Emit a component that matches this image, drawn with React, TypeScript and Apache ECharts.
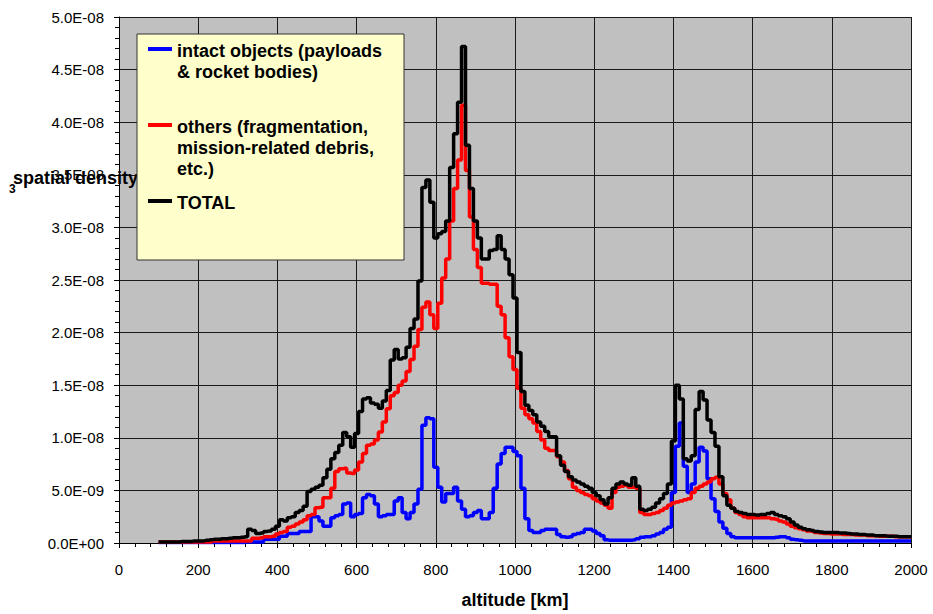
import React, { useEffect, useRef } from "react";
import * as echarts from "echarts";

// altitude bins [km]
const ALTITUDES = [
  100, 110, 120, 130, 140, 150, 160, 170, 180, 190,
  200, 210, 220, 230, 240, 250, 260, 270, 280, 290,
  300, 310, 320, 330, 340, 350, 360, 370, 380, 390,
  400, 410, 420, 430, 440, 450, 460, 470, 480, 490,
  500, 510, 520, 530, 540, 550, 560, 570, 580, 590,
  600, 610, 620, 630, 640, 650, 660, 670, 680, 690,
  700, 710, 720, 730, 740, 750, 760, 770, 780, 790,
  800, 810, 820, 830, 840, 850, 860, 870, 880, 890,
  900, 910, 920, 930, 940, 950, 960, 970, 980, 990,
  1000, 1010, 1020, 1030, 1040, 1050, 1060, 1070, 1080, 1090,
  1100, 1110, 1120, 1130, 1140, 1150, 1160, 1170, 1180, 1190,
  1200, 1210, 1220, 1230, 1240, 1250, 1260, 1270, 1280, 1290,
  1300, 1310, 1320, 1330, 1340, 1350, 1360, 1370, 1380, 1390,
  1400, 1410, 1420, 1430, 1440, 1450, 1460, 1470, 1480, 1490,
  1500, 1510, 1520, 1530, 1540, 1550, 1560, 1570, 1580, 1590,
  1600, 1610, 1620, 1630, 1640, 1650, 1660, 1670, 1680, 1690,
  1700, 1710, 1720, 1730, 1740, 1750, 1760, 1770, 1780, 1790,
  1800, 1810, 1820, 1830, 1840, 1850, 1860, 1870, 1880, 1890,
  1900, 1910, 1920, 1930, 1940, 1950, 1960, 1970, 1980, 1990,
  2000,
];

// spatial density in units of 1E-09 [1/km^3]
const INTACT = [
  0.05, 0.05, 0.05, 0.05, 0.05, 0.05, 0.05, 0.05, 0.05, 0.05,
  0.05, 0.05, 0.05, 0.05, 0.05, 0.05, 0.05, 0.05, 0.05, 0.05,
  0.05, 0.05, 0.1, 0.1, 0.1, 0.1, 0.1, 0.35, 0.35, 0.35,
  0.35, 0.65, 0.65, 0.9, 0.9, 0.9, 1.1, 1.1, 1.1, 2.5,
  2.5, 2.1, 1.6, 1.6, 2.4, 2.6, 2.7, 3.7, 3.8, 2.5,
  2.7, 2.8, 4.3, 4.6, 4.5, 3.7, 2.5, 2.6, 2.7, 2.7,
  4.0, 4.3, 2.9, 2.3, 2.9, 3.7, 5.1, 11.2, 11.9, 11.8,
  7.2, 5.3, 3.9, 4.7, 4.7, 5.3, 4.0, 3.2, 2.5, 2.6,
  2.9, 3.1, 2.3, 2.3, 2.9, 5.2, 7.5, 8.5, 9.1, 9.1,
  8.7, 8.3, 5.2, 2.3, 1.2, 1.0, 1.0, 1.2, 1.3, 1.3,
  1.3, 0.8, 0.6, 0.55, 0.6, 0.8, 0.9, 1.0, 1.3, 1.3,
  1.15, 0.9, 0.7, 0.3, 0.25, 0.25, 0.25, 0.25, 0.25, 0.25,
  0.3, 0.4, 0.55, 0.6, 0.6, 0.7, 0.85, 1.0, 1.3, 1.5,
  4.8, 9.2, 11.4, 7.3, 4.8, 5.6, 7.7, 9.1, 8.75, 6.1,
  4.2, 3.0, 2.0, 1.4, 0.9, 0.6, 0.5, 0.5, 0.5, 0.5,
  0.5, 0.5, 0.5, 0.5, 0.5, 0.5, 0.55, 0.6, 0.6, 0.5,
  0.35, 0.3, 0.25, 0.2, 0.2, 0.2, 0.2, 0.2, 0.2, 0.2,
  0.2, 0.2, 0.2, 0.2, 0.2, 0.2, 0.2, 0.2, 0.2, 0.2,
  0.2, 0.2, 0.2, 0.2, 0.2, 0.2, 0.2, 0.2, 0.2, 0.2,
  0.2,
];

const OTHERS = [
  0.1, 0.1, 0.1, 0.1, 0.1, 0.1, 0.1, 0.1, 0.1, 0.1,
  0.1, 0.1, 0.1, 0.1, 0.2, 0.2, 0.2, 0.2, 0.2, 0.2,
  0.2, 0.2, 0.2, 0.2, 0.45, 0.45, 0.5, 0.6, 0.6, 0.65,
  0.85, 1.0, 1.1, 1.5, 1.6, 1.8, 2.0, 2.2, 2.6, 2.7,
  3.35, 3.4, 4.3, 4.3, 5.2, 6.8, 7.05, 7.1, 6.65, 6.6,
  6.95, 7.7, 8.5, 9.3, 9.4, 9.8, 10.55, 11.5, 12.75, 14.0,
  14.3, 15.0, 15.4, 16.3, 17.45, 18.7, 20.3, 22.4, 22.9, 21.7,
  20.4, 22.8, 25.2, 27.0, 30.6, 33.7, 36.4, 41.6, 35.4, 31.0,
  27.9, 26.2, 24.7, 24.7, 24.6, 24.6, 22.5, 21.7, 19.5, 17.7,
  16.5, 14.7, 12.8, 12.2, 11.8, 11.4, 10.6, 9.8, 9.0, 8.8,
  8.8, 8.2, 7.7, 6.9, 6.1, 5.3, 5.0, 4.8, 4.6, 4.5,
  4.2, 4.0, 3.8, 3.6, 3.3, 4.8, 5.3, 5.4, 5.5, 5.3,
  5.3, 5.2, 2.9, 2.7, 2.7, 2.8, 2.9, 3.1, 3.3, 3.6,
  3.8, 3.9, 4.0, 4.1, 4.2, 4.8, 5.2, 5.4, 5.6, 5.8,
  6.1, 6.25, 5.6, 4.7, 4.1, 3.3, 2.9, 2.7, 2.5, 2.4,
  2.4, 2.4, 2.4, 2.4, 2.4, 2.3, 2.25, 2.1, 2.0, 1.8,
  1.6, 1.45, 1.35, 1.25, 1.15, 1.1, 1.0, 0.95, 0.9, 0.9,
  0.85, 0.85, 0.85, 0.8, 0.8, 0.8, 0.75, 0.75, 0.75, 0.7,
  0.7, 0.7, 0.65, 0.65, 0.65, 0.65, 0.6, 0.6, 0.6, 0.6,
  0.6,
];

const TOTAL = [
  0.1, 0.1, 0.1, 0.1, 0.1, 0.1, 0.15, 0.15, 0.15, 0.2,
  0.2, 0.2, 0.25, 0.3, 0.35, 0.35, 0.4, 0.4, 0.45, 0.5,
  0.5, 0.55, 0.6, 1.3, 1.2, 0.9, 0.95, 1.1, 1.15, 1.3,
  1.6, 2.2, 2.1, 2.4, 2.5, 2.9, 3.1, 3.5, 4.9, 5.1,
  5.3, 5.5, 6.2, 7.0, 8.0, 8.6, 9.3, 10.5, 10.1, 9.1,
  10.4, 12.5, 13.7, 13.8, 13.3, 13.2, 12.8, 13.5, 14.5, 17.4,
  18.4, 17.5, 17.6, 18.6, 20.4, 21.3, 24.9, 33.8, 34.5, 32.4,
  29.0, 29.4, 29.6, 30.6, 35.7, 38.9, 41.9, 47.2, 37.8, 33.7,
  30.6, 29.0, 27.0, 27.0, 27.8, 27.9, 29.2, 27.9, 27.0, 25.5,
  23.3, 18.1, 14.4, 13.1, 12.6, 12.2, 11.5, 11.1, 10.6, 10.1,
  10.1, 8.3, 7.4, 6.8, 6.3, 6.0, 5.8, 5.6, 5.4, 5.2,
  4.8, 4.5, 4.1, 3.7, 4.3, 5.2, 5.6, 5.8, 5.6, 5.5,
  6.2, 5.4, 3.2, 3.1, 3.2, 3.4, 3.8, 4.2, 4.7, 5.6,
  9.7, 15.0, 13.7, 8.0, 7.8, 8.3, 12.7, 14.4, 13.6, 11.7,
  10.5, 9.2, 6.3, 4.5, 3.6, 3.3, 3.0, 2.9, 2.8, 2.7,
  2.7, 2.65, 2.7, 2.7, 2.8, 2.9, 2.7, 2.6, 2.5, 2.3,
  2.0, 1.7, 1.5, 1.35, 1.25, 1.2, 1.1, 1.05, 1.0, 1.0,
  1.0, 1.0, 0.95, 0.95, 0.9, 0.85, 0.85, 0.8, 0.8, 0.75,
  0.75, 0.7, 0.7, 0.7, 0.65, 0.65, 0.65, 0.6, 0.6, 0.6,
  0.6,
];

const SERIES_NAMES = ["intact objects (payloads & rocket bodies)", "others (fragmentation, mission-related debris, etc.)", "TOTAL"];
const LEGEND_LINES = [
  ["intact objects (payloads", "& rocket bodies)"],
  ["others (fragmentation,", "mission-related debris,", "etc.)"],
  ["TOTAL"],
];
const COLORS = ["#0000FF", "#FF0000", "#000000"];
const UNIT = 1e-9;

const FONT = '"Liberation Sans", Arial, sans-serif';

function fmtExp(v: number): string {
  if (v === 0) return "0.0E+00";
  const s = (v * UNIT).toExponential(1);
  const [m, e] = s.split("e");
  const n = parseInt(e, 10);
  return m + "E" + (n < 0 ? "-" : "+") + String(Math.abs(n)).padStart(2, "0");
}

export default function App() {
  const ref = useRef<HTMLDivElement>(null);
  useEffect(() => {
    if (!ref.current) return;
    const chart = echarts.init(ref.current, null, { renderer: "svg" });
    const pairs = (vals: number[]) => ALTITUDES.map((a, i) => [a, vals[i]]);
    const seriesData = [INTACT, OTHERS, TOTAL];

    const legendGraphics: any[] = [
      {
        type: "rect",
        shape: { x: 137, y: 34, width: 267, height: 226 },
        style: { fill: "#FFFFCC", stroke: "#333333", lineWidth: 1 },
        z: 100,
      },
    ];
    const sampleY = [49, 125, 201];
    LEGEND_LINES.forEach((lines, k) => {
      legendGraphics.push({
        type: "line",
        shape: { x1: 148, y1: sampleY[k], x2: 172, y2: sampleY[k] },
        style: { stroke: COLORS[k], lineWidth: 4 },
        z: 101,
      });
      lines.forEach((t, j) => {
        legendGraphics.push({
          type: "text",
          x: 177,
          y: sampleY[k] + 2 + j * 21,
          style: {
            text: t,
            font: `bold 18px ${FONT}`,
            fill: "#000",
            textVerticalAlign: "middle",
            textAlign: "left",
          },
          z: 101,
        });
      });
    });

    chart.setOption({
      animation: false,
      backgroundColor: "#FFFFFF",
      grid: {
        left: 119,
        right: 22,
        top: 17,
        bottom: 65,
        show: true,
        backgroundColor: "#C0C0C0",
        borderWidth: 0,
      },
      xAxis: {
        type: "value",
        min: 0,
        max: 2000,
        interval: 200,
        name: "altitude [km]",
        nameLocation: "middle",
        nameGap: 48,
        nameTextStyle: { fontFamily: FONT, fontWeight: "bold", fontSize: 18, color: "#000" },
        axisLine: { show: true, lineStyle: { color: "#000", width: 1 } },
        axisTick: { show: true, length: 5, lineStyle: { color: "#000" } },
        minorTick: { show: true, splitNumber: 5, length: 4, lineStyle: { color: "#000" } },
        axisLabel: {
          fontFamily: FONT,
          fontSize: 15,
          color: "#000",
          margin: 19,
          formatter: (v: number) => String(v),
        },
        splitLine: { show: true, lineStyle: { color: "#1a1a1a", width: 1 } },
      },
      yAxis: {
        type: "value",
        min: 0,
        max: 50,
        interval: 5,
        axisLine: { show: true, lineStyle: { color: "#000", width: 1 } },
        axisTick: { show: true, length: 5, lineStyle: { color: "#000" } },
        minorTick: { show: true, splitNumber: 5, length: 4, lineStyle: { color: "#000" } },
        axisLabel: { fontFamily: FONT, fontSize: 15, color: "#000", margin: 15, formatter: fmtExp },
        splitLine: { show: true, lineStyle: { color: "#1a1a1a", width: 1 } },
      },
      series: seriesData.map((vals, i) => ({
        name: SERIES_NAMES[i],
        type: "line",
        step: "middle",
        showSymbol: false,
        data: pairs(vals),
        lineStyle: { color: COLORS[i], width: 3.5 },
        itemStyle: { color: COLORS[i] },
        z: 2 + i,
      })),
      graphic: [
        {
          type: "text",
          x: 13,
          y: 178,
          style: {
            text: "spatial density",
            font: `bold 18px ${FONT}`,
            fill: "#000",
            textVerticalAlign: "middle",
          },
          z: 50,
        },
        {
          type: "text",
          x: 9,
          y: 189,
          style: {
            text: "3",
            font: `bold 12px ${FONT}`,
            fill: "#000",
            textVerticalAlign: "middle",
          },
          z: 50,
        },
        ...legendGraphics,
      ],
    });
    return () => chart.dispose();
  }, []);
  return (
    <div
      ref={ref}
      style={{ position: "fixed", left: 0, top: 0, width: 933, height: 614 }}
    />
  );
}
